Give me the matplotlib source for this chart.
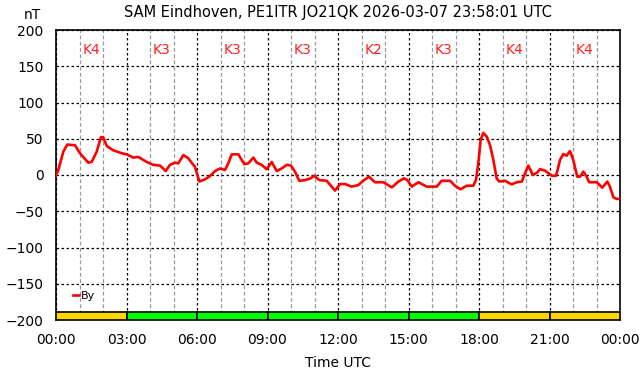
import matplotlib
matplotlib.use("Agg")
import matplotlib.pyplot as plt
from matplotlib.ticker import MultipleLocator, FuncFormatter

TITLE = "SAM Eindhoven, PE1ITR JO21QK 2026-03-07 23:58:01 UTC"

# hours since 00:00 UTC and By in nT
hours = [0.00, 0.10, 0.31, 0.48, 0.81, 1.02, 1.37, 1.52, 1.73, 1.91, 2.01, 2.16,
         2.44, 2.80, 3.01, 3.29, 3.50, 3.86, 4.14, 4.43, 4.67, 4.85, 5.06, 5.20,
         5.42, 5.63, 5.84, 5.91, 6.10, 6.34, 6.55, 6.77, 6.98, 7.19, 7.33, 7.48,
         7.76, 8.01, 8.18, 8.40, 8.54, 8.75, 8.97, 9.18, 9.39, 9.60, 9.82, 10.00,
         10.17, 10.35, 10.60, 10.81, 10.99, 11.20, 11.52, 11.73, 11.87, 12.09,
         12.30, 12.58, 12.86, 13.07, 13.32, 13.57, 13.93, 14.29, 14.57, 14.81,
         14.95, 15.14, 15.42, 15.77, 16.20, 16.41, 16.77, 16.98, 17.22, 17.48,
         17.76, 17.87, 17.97, 18.07, 18.18, 18.33, 18.47, 18.61, 18.75, 18.86,
         19.11, 19.39, 19.60, 19.82, 19.96, 20.10, 20.29, 20.46, 20.60, 20.81,
         21.09, 21.28, 21.45, 21.59, 21.73, 21.87, 22.01, 22.18, 22.30, 22.44,
         22.58, 22.69, 23.01, 23.25, 23.46, 23.57, 23.72, 23.86, 24.00]
by_nt = [-1, 7, 32, 42, 41, 30, 17, 18, 32, 52, 52, 40,
         34, 30, 28.5, 24, 25, 18, 14, 13, 5.5, 14, 17, 16,
         27.5, 23, 14, 11.5, -9, -6, -1.5, 5.5, 9, 7, 16, 28.5,
         28.5, 15, 16, 24, 17, 14, 8, 18, 5.5, 9, 14, 13,
         4.5, -8, -7, -5, -1, -7, -8, -16, -21.5, -12.5,
         -12.5, -16, -14, -8, -2.3, -10, -10, -17, -9, -4.6,
         -7, -16, -10, -16, -16, -8, -8, -15, -19.7, -14.7,
         -14.7, -7, 16, 48, 58, 53, 41, 21, -4.6, -9,
         -8, -13, -10, -9, 2.3, 13, 0, 3, 8, 6,
         -1, -1, 21, 29, 26.6, 33, 21, -2.3, -2.3, 4.6,
         -2.3, -10, -10, -17.5, -9, -16, -30.8, -33, -33]

# K index per 3-hour block
k_start = [0, 3, 6, 9, 12, 15, 18, 21]
k_index = [4, 3, 3, 3, 2, 3, 4, 4]

fig = plt.figure(figsize=(6.42, 3.76), dpi=100)
ax = fig.add_axes([56 / 642, 1 - 320 / 376, 564 / 642, 290 / 376])

ax.set_xlim(0, 24)
ax.set_ylim(-200, 200)

# K bars along the bottom
for h, k in zip(k_start, k_index):
    col = "#ffd700" if k >= 4 else "#00ff00"
    ax.bar(h, 11, width=3, bottom=-200, align="edge", color=col,
           edgecolor="black", linewidth=1.2, zorder=3)
    ax.text(h + 1.5, 172, f"K{k}", color="#ff2020", fontsize=10,
            ha="center", va="center", zorder=4)

ax.plot(hours, by_nt, color="red", linewidth=1.9, label="By", zorder=5)

ax.xaxis.set_major_locator(MultipleLocator(3))
ax.xaxis.set_minor_locator(MultipleLocator(1))
ax.yaxis.set_major_locator(MultipleLocator(50))
ax.xaxis.set_major_formatter(FuncFormatter(lambda v, p: f"{int(v) % 24:02d}:00"))

ax.grid(True, which="major", color="black", linestyle=(0, (2, 2)), linewidth=0.9)
ax.grid(True, which="minor", axis="x", color="#999999", linestyle=(0, (3, 2)), linewidth=0.9)
ax.set_axisbelow(True)

ax.tick_params(which="both", length=0, labelsize=10)
ax.tick_params(axis="y", pad=9)
ax.tick_params(axis="x", pad=9)
for s in ax.spines.values():
    s.set_linewidth(1.2)

ax.set_xlabel("Time UTC", fontsize=10, labelpad=7)
ax.set_title(TITLE, fontsize=10.5, pad=9.5)
fig.text(32 / 642, 1 - 15 / 376, "nT", ha="center", va="center", fontsize=10)

ax.legend(loc="lower left", bbox_to_anchor=(0.012, 0.03), frameon=False,
          fontsize=8, handlelength=0.6, handletextpad=0.15, borderaxespad=0.5)

fig.savefig("out.png", dpi=100)
